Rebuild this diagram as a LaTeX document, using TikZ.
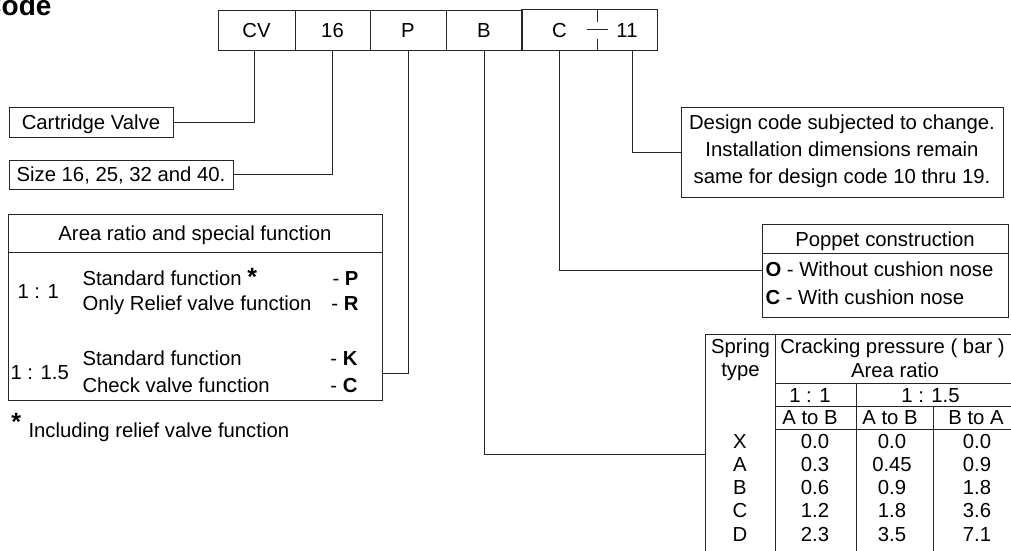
\documentclass[tikz,border=0pt]{standalone}
\usepackage{fontspec}
\setmainfont{Liberation Sans}
\begin{document}
\begin{tikzpicture}[x=1pt,y=-1pt,
  font=\fontsize{20.3}{24}\selectfont,
  line width=1pt, draw=black!85,
  tt/.style={inner sep=0pt, text height=14.5pt, text depth=0pt},
  frame/.style={draw, inner sep=0pt, text height=14.5pt, text depth=0pt},
  conn/.style={draw=black!85, line width=1pt},
  bstar/.style={inner sep=0pt, font=\fontsize{25}{25}\selectfont\bfseries}]
\useasboundingbox (0,0) rectangle (1011,550);

% title
\node[inner sep=0pt, anchor=base east, font=\fontsize{28}{28}\selectfont\bfseries] (title) at (52,15) {Code};

% header boxes
\node[frame, minimum width=77pt, minimum height=40pt] (cv) at (256.5,30) {CV};
\node[frame, minimum width=75pt, minimum height=40pt] (s16) at (332.5,30) {16};
\node[frame, minimum width=76pt, minimum height=40pt] (p) at (408,30) {P};
\node[frame, minimum width=76pt, minimum height=40pt] (b) at (484,30) {B};
\node[tt, minimum width=75pt, minimum height=40pt] (c) at (559.5,30) {C};
\node[tt, minimum width=60pt, minimum height=40pt] (d11) at (627,30) {11};
\draw (c.north west) rectangle (d11.south east);
\draw (c.north east) -- ++(0,12);
\draw (c.south east) -- ++(0,-12);
\draw (587,29) -- (608,29);

% left boxes
\node[frame, minimum width=164pt, minimum height=30pt] (cart) at (91,122) {Cartridge Valve};
\node[frame, minimum width=224pt, minimum height=29pt] (size) at (121,174.5) {Size 16, 25, 32 and 40.};

% area ratio box
\node[draw, inner sep=0pt, minimum width=374pt, minimum height=186pt] (area) at (195,307) {};
\draw (8,252) -- (382,252);
\node[tt] (areah) at (195,233) {Area ratio and special function};
\node[tt, anchor=west] (r11) at (17,291) {1 : 1};
\node[tt, anchor=west] (sf1) at (82,278) {Standard function {\fontsize{25}{25}\selectfont\bfseries *}};
\node[tt, anchor=east] (cp) at (359,278) {- \textbf{P}};
\node[tt, anchor=west] (orv) at (82,303) {Only Relief valve function};
\node[tt, anchor=east] (cr) at (359,303) {- \textbf{R}};
\node[tt, anchor=west] (r115) at (10,372) {1 : 1.5};
\node[tt, anchor=west] (sf2) at (82,358) {Standard function};
\node[tt, anchor=east] (ck) at (358,358) {- \textbf{K}};
\node[tt, anchor=west] (cvf) at (82,385) {Check valve function};
\node[tt, anchor=east] (cc) at (358,385) {- \textbf{C}};

% footnote
\node[bstar, anchor=base west] (fstar) at (11,430) {*};
\node[tt, anchor=west] (fnote) at (28,430.5) {Including relief valve function};

% design code box
\node[draw, inner sep=0pt, minimum width=322pt, minimum height=90pt] (design) at (842,152) {};
\node[tt] (dl1) at (842,122.5) {Design code subjected to change.};
\node[tt] (dl2) at (842,149.5) {Installation dimensions remain};
\node[tt] (dl3) at (842,176.5) {same for design code 10 thru 19.};

% poppet box
\node[draw, inner sep=0pt, minimum width=246pt, minimum height=93pt] (poppet) at (885,270.5) {};
\draw (762,253) -- (1008,253);
\node[tt] (ph) at (885,239) {Poppet construction};
\node[tt, anchor=west] (po) at (765,269) {\textbf{O} - Without cushion nose};
\node[tt, anchor=west] (pc) at (765,297.5) {\textbf{C} - With cushion nose};

% spring table
\draw (705,560) -- (705,334) -- (1013,334);
\draw (775,334) -- (775,560);
\draw (775,383) -- (1013,383);
\draw (775,406) -- (1013,406);
\draw (775,429) -- (1013,429);
\draw (856,383) -- (856,560);
\draw (933,406) -- (933,560);
\coordinate (tbl) at (705,454);
\node[tt] (sp) at (740.5,346) {Spring};
\node[tt] (ty) at (740.5,369) {type};
\node[tt] (crp) at (892.5,346) {Cracking pressure ( bar )};
\node[tt] (ar) at (895,370) {Area ratio};
\node[tt] (a11) at (810,395) {1 : 1};
\node[tt] (a115) at (930.5,395) {1 : 1.5};
\node[tt] (h1) at (810,417) {A to B};
\node[tt] (h2) at (890,417) {A to B};
\node[tt] (h3) at (976,417) {B to A};
\foreach \n/\y/\s/\u/\v/\w in {x/441/X/0.0/0.0/0.0, a/464/A/0.3/0.45/0.9, b/487/B/0.6/0.9/1.8, c/510/C/1.2/1.8/3.6, d/534/D/2.3/3.5/7.1}{
  \node[tt] (k\n) at (740,\y) {\s};
  \node[tt] (v1\n) at (815,\y) {\u};
  \node[tt] (v2\n) at (892,\y) {\v};
  \node[tt] (v3\n) at (977,\y) {\w};
}

% connectors
\draw[conn] ([xshift=-2.5pt]cv.south) |- (cart.east);
\draw[conn] (s16.south) |- (size.east);
\draw[conn] (p.south) |- ([yshift=-66pt]area.east);
\draw[conn] (b.south) |- (tbl);
\draw[conn] (c.south) |- (poppet.west);
\draw[conn] ([xshift=5pt]d11.south) |- (design.west);
\end{tikzpicture}
\end{document}
